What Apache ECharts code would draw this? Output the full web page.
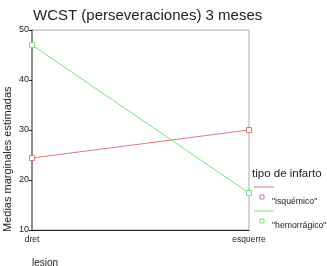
<!DOCTYPE html>
<html><head><meta charset="utf-8">
<script src="https://cdn.jsdelivr.net/npm/echarts@6/dist/echarts.min.js"></script>
<style>html,body{margin:0;padding:0;background:#fff}#c{width:327px;height:266px}</style>
</head><body><div id="c"></div>
<script>
var categories = ['dret', 'esquerre'];
var isquemico = [24.4, 30.0];
var hemorragico = [47.0, 17.4];
var yTicks = [10, 20, 30, 40, 50];
var seriesNames = ['"isquémico"', '"hemorrágico"'];

var chart = echarts.init(document.getElementById('c'), null, {renderer: 'canvas'});
var font = 'Liberation Sans, Arial, sans-serif';
chart.setOption({
  animation: false,
  title: {text: 'WCST (perseveraciones) 3 meses', left: 28, top: 3,
    textStyle: {fontFamily: font, fontSize: 15, fontWeight: 'normal', color: '#222'}},
  grid: {left: 32, right: 78, top: 30, bottom: 36, show: true, borderColor: '#aaa', borderWidth: 1,
    outerBoundsMode: 'none', containLabel: false},
  xAxis: {type: 'category', data: categories, boundaryGap: false,
    axisLine: {lineStyle: {color: '#222', width: 1}},
    axisTick: {show: false},
    axisLabel: {fontFamily: font, fontSize: 8.5, color: '#222', margin: 5},
    name: 'lesion', nameLocation: 'start', nameGap: 0,
    nameTextStyle: {fontFamily: font, fontSize: 10, color: '#222', align: 'left', verticalAlign: 'top', padding: [28, 0, 0, 0]}
  },
  yAxis: {type: 'value', min: yTicks[0], max: yTicks[yTicks.length - 1], interval: 10,
    axisLine: {show: true, lineStyle: {color: '#777', width: 1.5}},
    axisTick: {show: true, length: 3, lineStyle: {color: '#222'}},
    splitLine: {show: false},
    axisLabel: {fontFamily: font, fontSize: 9, color: '#222', margin: 3}
  },
  series: [
    {name: seriesNames[0], type: 'line', data: isquemico, symbol: 'rect', symbolSize: 5,
      lineStyle: {color: '#e07878', width: 1}, itemStyle: {color: '#fff', borderColor: '#e07878', borderWidth: 1}},
    {name: seriesNames[1], type: 'line', data: hemorragico, symbol: 'rect', symbolSize: 5,
      lineStyle: {color: '#78e078', width: 1}, itemStyle: {color: '#fff', borderColor: '#78e078', borderWidth: 1}}
  ],
  graphic: [
    {type: 'text', x: 8, y: 232, rotation: Math.PI / 2,
      style: {text: 'Medias marginales estimadas', font: '11px ' + font, fill: '#222', align: 'left', verticalAlign: 'middle'}},
    {type: 'text', x: 252, y: 174, style: {text: 'tipo de infarto', font: '11.5px ' + font, fill: '#222', verticalAlign: 'middle'}},
    {type: 'line', shape: {x1: 254, y1: 187, x2: 274, y2: 187}, style: {stroke: '#e07878', lineWidth: 1}},
    {type: 'rect', shape: {x: 260, y: 195, width: 4, height: 4}, style: {fill: '#fff', stroke: '#e07878', lineWidth: 1}},
    {type: 'text', x: 272, y: 202, style: {text: seriesNames[0], font: '8.7px ' + font, fill: '#222', verticalAlign: 'middle'}},
    {type: 'line', shape: {x1: 254, y1: 211, x2: 274, y2: 211}, style: {stroke: '#78e078', lineWidth: 1}},
    {type: 'rect', shape: {x: 260, y: 219, width: 4, height: 4}, style: {fill: '#fff', stroke: '#78e078', lineWidth: 1}},
    {type: 'text', x: 272, y: 226, style: {text: seriesNames[1], font: '8.7px ' + font, fill: '#222', verticalAlign: 'middle'}}
  ]
});
</script></body></html>
